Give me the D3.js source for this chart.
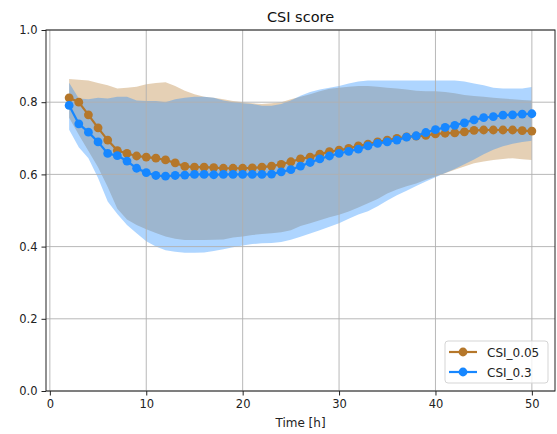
<!DOCTYPE html>
<html>
<head>
<meta charset="utf-8">
<script src="https://cdn.jsdelivr.net/npm/d3@7"></script>
<style>
  body { margin: 0; background: #fff; }
  svg { font-family: "DejaVu Sans", sans-serif; }
</style>
</head>
<body>
<div id="chart"></div>
<script>
const hours = d3.range(2, 51);

const csi005 = [0.812, 0.800, 0.765, 0.729, 0.695, 0.666, 0.658, 0.651, 0.648, 0.645,
  0.640, 0.632, 0.622, 0.620, 0.620, 0.619, 0.617, 0.617, 0.617, 0.618,
  0.620, 0.623, 0.628, 0.635, 0.643, 0.648, 0.656, 0.663, 0.667, 0.672,
  0.679, 0.684, 0.690, 0.695, 0.700, 0.704, 0.706, 0.708, 0.712, 0.714,
  0.715, 0.718, 0.722, 0.723, 0.723, 0.723, 0.723, 0.721, 0.720];
const csi005Upper = [0.864, 0.862, 0.860, 0.853, 0.847, 0.838, 0.840, 0.843, 0.850, 0.853,
  0.855, 0.845, 0.832, 0.822, 0.815, 0.812, 0.808, 0.803, 0.800, 0.797,
  0.795, 0.797, 0.800, 0.808, 0.815, 0.822, 0.830, 0.837, 0.840, 0.843,
  0.845, 0.845, 0.843, 0.840, 0.838, 0.835, 0.832, 0.830, 0.830, 0.828,
  0.825, 0.820, 0.817, 0.815, 0.812, 0.810, 0.808, 0.806, 0.805];
const csi005Lower = [0.757, 0.710, 0.665, 0.620, 0.565, 0.505, 0.475, 0.460, 0.448, 0.438,
  0.428, 0.422, 0.418, 0.418, 0.418, 0.419, 0.420, 0.425, 0.428, 0.432,
  0.435, 0.437, 0.440, 0.445, 0.457, 0.465, 0.473, 0.481, 0.488, 0.497,
  0.508, 0.520, 0.532, 0.547, 0.558, 0.567, 0.575, 0.585, 0.594, 0.603,
  0.613, 0.622, 0.631, 0.636, 0.640, 0.643, 0.645, 0.642, 0.640];

const csi03 = [0.791, 0.740, 0.717, 0.690, 0.658, 0.652, 0.637, 0.617, 0.605, 0.597,
  0.595, 0.597, 0.598, 0.600, 0.600, 0.599, 0.600, 0.600, 0.600, 0.600,
  0.600, 0.601, 0.607, 0.613, 0.623, 0.633, 0.643, 0.651, 0.658, 0.664,
  0.670, 0.679, 0.686, 0.690, 0.695, 0.703, 0.707, 0.716, 0.724, 0.730,
  0.736, 0.743, 0.751, 0.757, 0.760, 0.764, 0.765, 0.767, 0.768];
const csi03Upper = [0.854, 0.810, 0.808, 0.812, 0.810, 0.815, 0.815, 0.805, 0.803, 0.803,
  0.800, 0.808, 0.812, 0.815, 0.815, 0.812, 0.805, 0.800, 0.797, 0.795,
  0.790, 0.790, 0.795, 0.805, 0.818, 0.828, 0.835, 0.840, 0.845, 0.852,
  0.857, 0.860, 0.860, 0.860, 0.860, 0.860, 0.860, 0.860, 0.860, 0.860,
  0.860, 0.857, 0.852, 0.847, 0.840, 0.838, 0.838, 0.838, 0.842];
const csi03Lower = [0.724, 0.675, 0.645, 0.590, 0.525, 0.490, 0.460, 0.437, 0.415, 0.400,
  0.390, 0.386, 0.383, 0.383, 0.384, 0.388, 0.393, 0.398, 0.403, 0.407,
  0.409, 0.410, 0.413, 0.419, 0.427, 0.436, 0.445, 0.455, 0.465, 0.477,
  0.489, 0.498, 0.512, 0.528, 0.542, 0.555, 0.568, 0.580, 0.592, 0.604,
  0.615, 0.628, 0.641, 0.656, 0.668, 0.678, 0.685, 0.690, 0.693];

const xTicks = [0, 10, 20, 30, 40, 50];
const yTicks = [0.0, 0.2, 0.4, 0.6, 0.8, 1.0];

const series = [
  { name: "CSI_0.05", mean: csi005, upper: csi005Upper, lower: csi005Lower, color: "#b5772a" },
  { name: "CSI_0.3", mean: csi03, upper: csi03Upper, lower: csi03Lower, color: "#1787ff" }
];

const width = 557, height = 434;
const margin = { top: 30, right: 2, bottom: 43, left: 46 };

const svg = d3.select("#chart").append("svg")
  .attr("width", width)
  .attr("height", height);

const x = d3.scaleLinear().domain([-0.4, 52.4]).range([margin.left, width - margin.right]);
const y = d3.scaleLinear().domain([0, 1]).range([height - margin.bottom, margin.top]);

// bands
series.forEach(s => {
  const area = d3.area()
    .x((d, i) => x(hours[i]))
    .y0((d, i) => y(s.lower[i]))
    .y1((d, i) => y(s.upper[i]));
  svg.append("path")
    .datum(s.mean)
    .attr("d", area)
    .attr("fill", s.color)
    .attr("fill-opacity", 0.35);
});

// grid
svg.append("g")
  .selectAll("line.gx")
  .data(xTicks)
  .join("line")
  .attr("x1", d => x(d)).attr("x2", d => x(d))
  .attr("y1", y(0)).attr("y2", y(1))
  .attr("stroke", "#b0b0b0").attr("stroke-width", 0.9);
svg.append("g")
  .selectAll("line.gy")
  .data(yTicks)
  .join("line")
  .attr("x1", x(-0.4)).attr("x2", x(52.4))
  .attr("y1", d => y(d)).attr("y2", d => y(d))
  .attr("stroke", "#b0b0b0").attr("stroke-width", 0.9);

// lines + markers
series.forEach(s => {
  const line = d3.line()
    .x((d, i) => x(hours[i]))
    .y(d => y(d));
  svg.append("path")
    .datum(s.mean)
    .attr("d", line)
    .attr("fill", "none")
    .attr("stroke", s.color)
    .attr("stroke-width", 2.2);
  svg.append("g")
    .selectAll("circle")
    .data(s.mean)
    .join("circle")
    .attr("cx", (d, i) => x(hours[i]))
    .attr("cy", d => y(d))
    .attr("r", 4.4)
    .attr("fill", s.color);
});

// axes
const xAxis = svg.append("g")
  .attr("transform", `translate(0,${y(0)})`)
  .call(d3.axisBottom(x).tickValues(xTicks).tickSize(4.5).tickPadding(4).tickFormat(d3.format("d")));
const yAxis = svg.append("g")
  .attr("transform", `translate(${x(-0.4)},0)`)
  .call(d3.axisLeft(y).tickValues(yTicks).tickSize(4.5).tickPadding(4).tickFormat(d3.format(".1f")));
[xAxis, yAxis].forEach(g => {
  g.select(".domain").remove();
  g.selectAll("text").attr("font-size", 11.5).attr("fill", "#222").attr("font-family", "DejaVu Sans");
  g.selectAll("line").attr("stroke", "#222");
});

// frame
svg.append("rect")
  .attr("x", x(-0.4)).attr("y", y(1))
  .attr("width", x(52.4) - x(-0.4)).attr("height", y(0) - y(1))
  .attr("fill", "none").attr("stroke", "#222").attr("stroke-width", 1);

// title and label
svg.append("text")
  .attr("x", (x(-0.4) + x(52.4)) / 2).attr("y", 22)
  .attr("text-anchor", "middle")
  .attr("font-size", 14.5).attr("fill", "#111")
  .text("CSI score");
svg.append("text")
  .attr("x", (x(-0.4) + x(52.4)) / 2).attr("y", 427)
  .attr("text-anchor", "middle")
  .attr("font-size", 12).attr("fill", "#222")
  .text("Time [h]");

// legend
const lg = svg.append("g").attr("transform", "translate(445,341)");
lg.append("rect")
  .attr("width", 103).attr("height", 42).attr("rx", 3)
  .attr("fill", "#fff").attr("fill-opacity", 0.8)
  .attr("stroke", "#d5d5d5");
series.forEach((s, i) => {
  const row = lg.append("g").attr("transform", `translate(0,${11 + i * 20})`);
  row.append("line").attr("x1", 4).attr("x2", 32).attr("stroke", s.color).attr("stroke-width", 2.2);
  row.append("circle").attr("cx", 18).attr("r", 4.4).attr("fill", s.color);
  row.append("text").attr("x", 42).attr("y", 4.5)
    .attr("font-size", 12).attr("fill", "#222")
    .text(s.name);
});
</script>
</body>
</html>
